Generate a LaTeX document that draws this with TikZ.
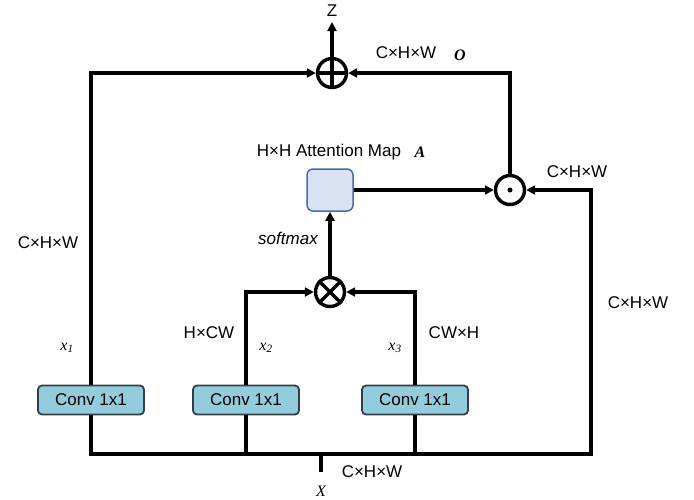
\documentclass[tikz,border=0pt]{standalone}
\usepackage{fontspec}
\setmainfont{Liberation Sans}
\newfontfamily\mathlike{Liberation Serif}
\usetikzlibrary{arrows.meta}
\definecolor{convfill}{RGB}{147,205,221}
\definecolor{convline}{RGB}{50,62,72}
\definecolor{attfill}{RGB}{218,227,243}
\definecolor{attline}{RGB}{68,108,170}
\tikzset{
  wire/.style={line width=3.4pt},
  arr/.style={wire,-{Triangle[length=9pt,width=9pt]}},
  opnode/.style={circle,draw,line width=3.4pt,minimum size=29pt,inner sep=0pt},
  convbox/.style={draw=convline,fill=convfill,line width=1.8pt,rounded corners=4pt,
    minimum width=106pt,minimum height=29pt,inner sep=0pt,font=\fontsize{17}{20}\selectfont},
  attbox/.style={draw=attline,fill=attfill,line width=1.5pt,rounded corners=6pt,
    minimum width=46pt,minimum height=42pt},
  dimlabel/.style={font=\fontsize{17}{20}\selectfont},
  varlabel/.style={font=\mathlike\itshape\fontsize{16}{18}\selectfont},
  biglabel/.style={font=\mathlike\bfseries\itshape\fontsize{16}{18}\selectfont}
}
\begin{document}
\begin{tikzpicture}[x=1pt,y=-1pt]

	\useasboundingbox (0,0) rectangle (694,499);

	% Operacions
	\node[opnode] (plus) at (332,73) {};
	\draw[line width=3.4pt] (plus.north) -- (plus.south) (plus.west) -- (plus.east);
	\node[opnode] (dot) at (510,190) {};
	\fill (dot.center) circle (2.5pt);
	\node[opnode] (mul) at (330,292) {};
	\draw[line width=3.4pt] (mul.north west) -- (mul.south east) (mul.north east) -- (mul.south west);

	\node[attbox] (att) at (330,190) {};

	% Convolucions
	\node[convbox] (c1) at (91,400) {Conv 1x1};
	\node[convbox] (c2) at (246,400) {Conv 1x1};
	\node[convbox] (c3) at (415,400) {Conv 1x1};

	\coordinate (bl) at (91,454);
	\coordinate (br) at (591,454);
	\coordinate (xin) at (321,472);
	\coordinate (zout) at (332,22);

	% Connexions
	\draw[wire] (xin) -- (xin |- bl);
	\draw[arr] (c1.south) -- (bl) -- (br) |- (dot.east);
	\draw[wire] (c2.south) -- (c2.south |- bl);
	\draw[wire] (c3.south) -- (c3.south |- bl);
	\draw[arr] (c1.north) |- (plus.west);
	\draw[arr] (c2.north) |- (mul.west);
	\draw[arr] (c3.north) |- (mul.east);
	\draw[arr] (mul.north) -- (att.south);
	\draw[arr] (att.east) -- (dot.west);
	\draw[arr] (dot.north) |- (plus.east);
	\draw[arr] (plus.north) -- (zout);

	% Etiquetes
	\node[dimlabel] (zlab) at (332,11) {Z};
	\node[dimlabel] (dtop) at (406,53) {C×H×W};
	\node[biglabel] (olab) at (460,55) {O};
	\node[dimlabel] (attlab) at (329,152) {H×H Attention Map};
	\node[biglabel] (alab) at (420,152) {A};
	\node[dimlabel] (ddot) at (577,172) {C×H×W};
	\node[dimlabel,font=\itshape\fontsize{17}{20}\selectfont] (smax) at (288,238) {softmax};
	\node[dimlabel] (dleft) at (48,243) {C×H×W};
	\node[dimlabel] (dright) at (638,303) {C×H×W};
	\node[dimlabel] (dk) at (209,333) {H×CW};
	\node[dimlabel] (dq) at (454,333) {CW×H};
	\node[varlabel] (x1) at (67,348) {x\textsubscript{1}};
	\node[varlabel] (x2) at (266,348) {x\textsubscript{2}};
	\node[varlabel] (x3) at (395,348) {x\textsubscript{3}};
	\node[dimlabel] (dbot) at (372,472) {C×H×W};
	\node[varlabel] (xlab) at (321,491) {X};

\end{tikzpicture}
\end{document}
